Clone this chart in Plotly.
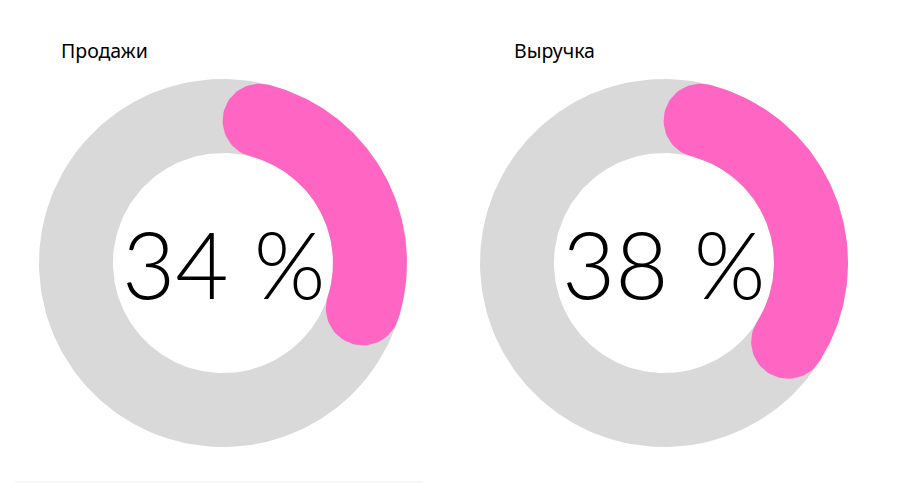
import numpy as np
import plotly.graph_objects as go

# KPI values (share of plan, %)
titles = ["Продажи", "Выручка"]
values = [34, 38]

PINK = "#FF66C4"
GREY = "#D9D9D9"

# ring geometry in axis units (outer radius = 1)
R_OUT = 1.0
R_IN = 0.598


def ring_xy(r_out, r_in, n=240):
    t = np.linspace(0, 2 * np.pi, n)
    x = np.concatenate([r_out * np.cos(t), r_in * np.cos(t[::-1])])
    y = np.concatenate([r_out * np.sin(t), r_in * np.sin(t[::-1])])
    return x, y


def rounded_arc_xy(pct, r_out, r_in, n=120):
    """Clockwise arc from 12 o'clock covering pct of the circle, with round caps."""
    r_mid = (r_out + r_in) / 2
    half = (r_out - r_in) / 2
    cap = half / r_mid
    a0 = cap
    a1 = pct / 100 * 2 * np.pi - cap
    # angles measured clockwise from top
    th = np.linspace(a0, a1, n)
    ox, oy = r_out * np.sin(th), r_out * np.cos(th)
    # end cap
    cx, cy = r_mid * np.sin(a1), r_mid * np.cos(a1)
    phi = np.linspace(0, np.pi, 40)
    ex = cx + half * np.sin(a1 + phi)
    ey = cy + half * np.cos(a1 + phi)
    ix, iy = r_in * np.sin(th[::-1]), r_in * np.cos(th[::-1])
    # start cap
    sx0, sy0 = r_mid * np.sin(a0), r_mid * np.cos(a0)
    sx = sx0 + half * np.sin(a0 + np.pi + phi)
    sy = sy0 + half * np.cos(a0 + np.pi + phi)
    return np.concatenate([ox, ex, ix, sx]), np.concatenate([oy, ey, iy, sy])


fig = go.Figure()

W, H = 900, 493
centers_px = [223, 664]
cy_px = 263
r_px = 184
span = 1.15

for i, (title, val) in enumerate(zip(titles, values)):
    xa = "x" if i == 0 else f"x{i + 1}"
    ya = "y" if i == 0 else f"y{i + 1}"
    gx, gy = ring_xy(R_OUT, R_IN)
    fig.add_trace(go.Scatter(x=gx, y=gy, xaxis=xa, yaxis=ya, mode="lines",
                             line=dict(width=0), fill="toself", fillcolor=GREY,
                             hoverinfo="skip", showlegend=False))
    px_, py_ = rounded_arc_xy(val, R_OUT, R_IN)
    fig.add_trace(go.Scatter(x=px_, y=py_, xaxis=xa, yaxis=ya, mode="lines",
                             line=dict(width=0), fill="toself", fillcolor=PINK,
                             hoverinfo="skip", showlegend=False))

    half_w = span * r_px / W
    half_h = span * r_px / H
    cx = centers_px[i] / W
    cy = (H - cy_px) / H
    axis = dict(range=[-span, span], visible=False, fixedrange=True)
    fig.update_layout({
        f"xaxis{'' if i == 0 else i + 1}": dict(axis, domain=[cx - half_w, cx + half_w]),
        f"yaxis{'' if i == 0 else i + 1}": dict(axis, domain=[cy - half_h, cy + half_h]),
    })

    fig.add_annotation(text=f"{val} %", x=0, y=0, xref=xa, yref=ya,
                       showarrow=False, yshift=0,
                       font=dict(family="Lato", size=92, color="black", weight=300))
    fig.add_annotation(text=title, x=[59, 512][i] / W, y=(H - 50) / H,
                       xref="paper", yref="paper", xanchor="left", yanchor="middle",
                       showarrow=False,
                       font=dict(family="Noto Sans", size=19.5, color="black"))

# faint separator under the left chart
fig.add_shape(type="line", xref="paper", yref="paper",
              x0=15 / W, x1=423 / W, y0=(H - 482) / H, y1=(H - 482) / H,
              line=dict(color="#EFEFEF", width=1))

fig.update_layout(width=W, height=H, margin=dict(l=0, r=0, t=0, b=0),
                  paper_bgcolor="white", plot_bgcolor="white")

# drop the default page margin so the chart sits at the window corner
fig.write_html("out.html", config={"displayModeBar": False},
               post_script="document.body.style.margin='0';")
